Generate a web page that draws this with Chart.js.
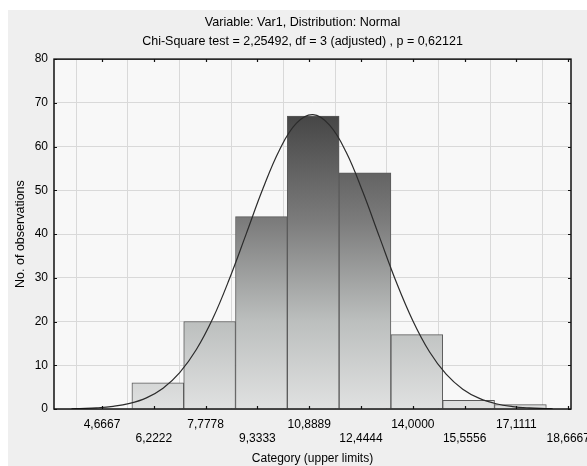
<!DOCTYPE html>
<html>
<head>
<meta charset="utf-8">
<title>Histogram – Var1</title>
<script src="https://cdn.jsdelivr.net/npm/chart.js@4.4.1/dist/chart.umd.min.js"></script>
<style>
  html, body { margin: 0; padding: 0; background: #fff; overflow: hidden; }
  #panel { position: absolute; left: 8px; top: 10px; width: 589px; height: 456px; background: #efefef; }
  canvas { display: block; }
</style>
</head>
<body>
<div id="panel"><canvas id="histChart" width="589" height="456"></canvas></div>
<script>
// ── Data ─────────────────────────────────────────
const upperLimits = [4.6667, 6.2222, 7.7778, 9.3333, 10.8889, 12.4444, 14.0000, 15.5556, 17.1111, 18.6667];
const tickLabels  = ['4,6667', '6,2222', '7,7778', '9,3333', '10,8889', '12,4444', '14,0000', '15,5556', '17,1111', '18,6667'];
const counts      = [0, 6, 20, 44, 67, 54, 17, 2, 1, 0];

// fitted normal curve
const curveX = [3.75, 4.0, 4.5, 5.0, 5.5, 6.0, 6.5, 7.0, 7.5, 8.0, 8.5, 9.0, 9.5, 10.0, 10.5, 11.0,
                11.5, 12.0, 12.5, 13.0, 13.5, 14.0, 14.5, 15.0, 15.5, 16.0, 16.5, 17.0, 17.5, 18.0, 18.2];
const curveY = [0.05, 0.11, 0.26, 0.60, 1.28, 2.55, 4.76, 8.32, 13.6, 20.8, 29.9, 40.1, 50.4, 59.3, 65.3, 67.3,
                64.9, 58.7, 49.6, 39.3, 29.1, 20.2, 13.1, 7.97, 4.54, 2.42, 1.20, 0.56, 0.25, 0.10, 0.06];

const yTicksMax = 80;
const yStep = 10;

// ── Style ────────────────────────────────────────
const FONT = "'Liberation Sans', Arial, sans-serif";
const BAR_SHIFT = 0.12;   // bars sit slightly right of the label ticks

let barGradient = null;
function barFill(c) {
  const { chart } = c;
  const { chartArea, scales } = chart;
  if (!chartArea) return '#999';
  if (barGradient) return barGradient;
  const y0 = scales.y.getPixelForValue(0);
  const y1 = scales.y.getPixelForValue(yTicksMax);
  const g = chart.ctx.createLinearGradient(0, y0, 0, y1);
  g.addColorStop(0,      '#e0e1e1');
  g.addColorStop(0.25,   '#bcbfbe');
  g.addColorStop(0.54,   '#7b7b7b');
  g.addColorStop(0.84,   '#464646');
  g.addColorStop(1,      '#303030');
  barGradient = g;
  return g;
}

// plot background, frame and inward tick marks
const framePlugin = {
  id: 'frame',
  beforeDraw(chart) {
    const { ctx, chartArea: a } = chart;
    ctx.save();
    ctx.fillStyle = '#f8f8f8';
    ctx.fillRect(a.left, a.top, a.width, a.height);
    ctx.restore();
  },
  afterDatasetsDraw(chart) {
    const { ctx, chartArea: a, scales: { x, y } } = chart;
    ctx.save();
    ctx.strokeStyle = '#111';
    ctx.lineWidth = 1.2;
    ctx.beginPath();
    x.ticks.forEach(t => {
      const px = Math.round(x.getPixelForValue(t.value)) + 0.5;
      ctx.moveTo(px, a.bottom); ctx.lineTo(px, a.bottom - 3);
      ctx.moveTo(px, a.top);    ctx.lineTo(px, a.top + 3);
    });
    y.ticks.forEach(t => {
      const py = Math.round(y.getPixelForValue(t.value)) + 0.5;
      ctx.moveTo(a.left, py);  ctx.lineTo(a.left + 3, py);
      ctx.moveTo(a.right, py); ctx.lineTo(a.right - 3, py);
    });
    ctx.stroke();
    ctx.lineWidth = 1.5;
    ctx.strokeRect(a.left, a.top, a.width, a.height);
    ctx.restore();
  }
};

// ── Chart ────────────────────────────────────────
const ctx = document.getElementById('histChart');

new Chart(ctx, {
  type: 'bar',
  data: {
    datasets: [
      {
        type: 'line',
        label: 'Normal',
        data: curveX.map((v, i) => ({ x: v, y: curveY[i] })),
        borderColor: '#2b2b2b',
        borderWidth: 1.2,
        pointRadius: 0,
        tension: 0.4,
        fill: false,
        order: 0,
      },
      {
        label: 'Var1',
        data: upperLimits.map((v, i) => ({ x: v + BAR_SHIFT, y: counts[i] })),
        backgroundColor: barFill,
        borderColor: '#5a5a5a',
        borderWidth: 1,
        barPercentage: 1,
        categoryPercentage: 1,
        order: 1,
      }
    ]
  },
  options: {
    responsive: false,
    animation: false,
    layout: { padding: 0 },
    plugins: {
      legend: { display: false },
      tooltip: { enabled: false },
      title: {
        display: true,
        text: 'Variable: Var1, Distribution: Normal',
        color: '#000',
        font: { family: FONT, size: 12.6, weight: 'normal', lineHeight: 1.2 },
        padding: { top: 5, bottom: 0 }
      },
      subtitle: {
        display: true,
        text: 'Chi-Square test = 2,25492, df = 3 (adjusted) , p = 0,62121',
        color: '#000',
        font: { family: FONT, size: 12.5, lineHeight: 1.2 },
        padding: { top: 4, bottom: 10 }
      }
    },
    scales: {
      x: {
        type: 'linear',
        min: 3.225,
        max: 18.75,
        offset: false,
        grid: { color: '#d9d9d9', drawTicks: false },
        border: { display: false },
        afterBuildTicks: scale => {
          scale.ticks = upperLimits.map(v => ({ value: v }));
        },
        afterFit: scale => {
          scale.height = 57;
          scale.paddingLeft = 0;
          scale.paddingRight = 0;
        },
        ticks: {
          autoSkip: false,
          maxRotation: 0,
          padding: 8,
          color: '#000',
          font: { family: FONT, size: 12, lineHeight: 1.2 },
          callback: (v, i) => (i % 2 ? ['', tickLabels[i]] : tickLabels[i])
        },
        title: {
          display: true,
          text: 'Category (upper limits)',
          color: '#000',
          font: { family: FONT, size: 12 },
          padding: { top: 0, bottom: 0 }
        }
      },
      y: {
        min: 0,
        max: yTicksMax,
        grid: { color: '#d9d9d9', drawTicks: false },
        border: { display: false },
        afterFit: scale => {
          scale.width = 46;
          scale.paddingTop = 0;
          scale.paddingBottom = 0;
        },
        ticks: {
          stepSize: yStep,
          padding: 6,
          color: '#000',
          font: { family: FONT, size: 12 }
        },
        title: {
          display: true,
          text: 'No. of observations',
          color: '#000',
          font: { family: FONT, size: 12.5 },
          padding: { top: 5, bottom: 0 }
        }
      },
      // empty strip on the right so the titles centre over the whole panel
      yRight: {
        position: 'right',
        min: 0,
        max: yTicksMax,
        grid: { display: false, drawTicks: false },
        border: { display: false },
        ticks: { display: false },
        afterFit: scale => {
          scale.width = 26;
          scale.paddingTop = 0;
          scale.paddingBottom = 0;
        }
      }
    }
  },
  plugins: [framePlugin]
});
</script>
</body>
</html>
